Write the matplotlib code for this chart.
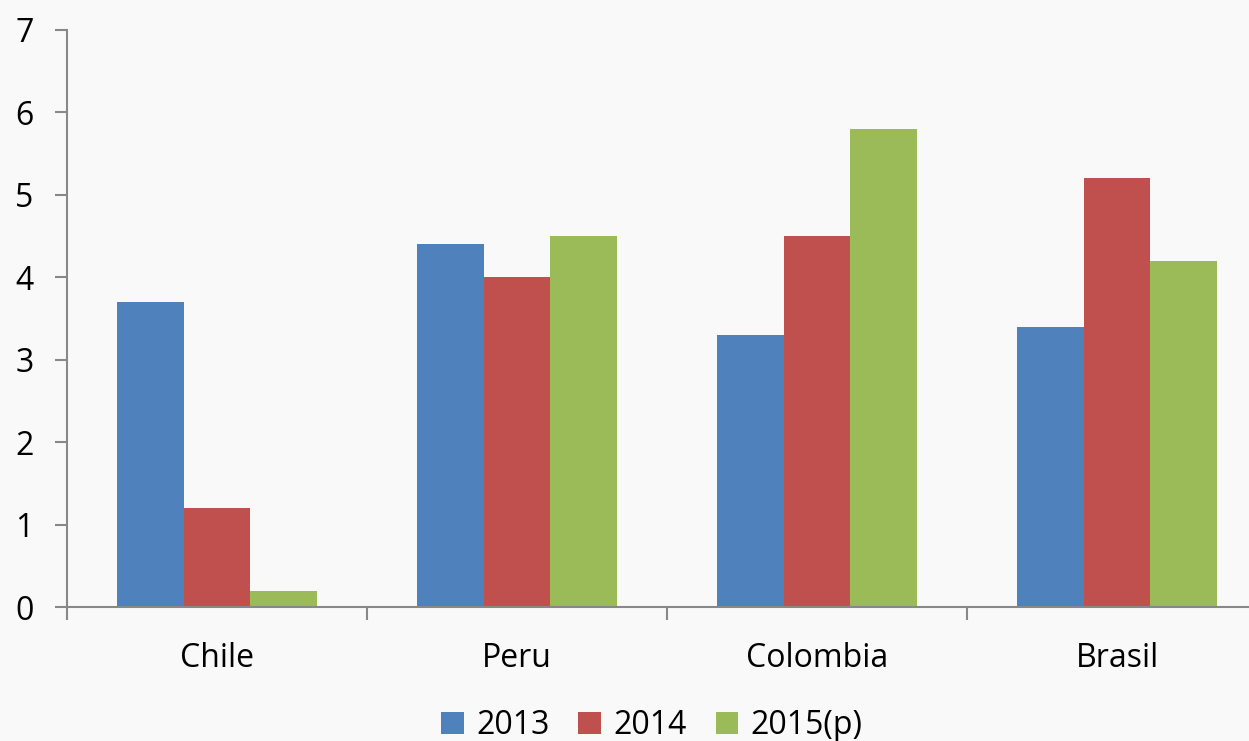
import numpy as np
import matplotlib
matplotlib.use("Agg")
import matplotlib.pyplot as plt

countries = ["Chile", "Peru", "Colombia", "Brasil"]
series_names = ["2013", "2014", "2015(p)"]
v2013 = [3.7, 4.4, 3.3, 3.4]
v2014 = [1.2, 4.0, 4.5, 5.2]
v2015 = [0.2, 4.5, 5.8, 4.2]
colors = ["#4f81bd", "#c0504d", "#9bbb59"]

plt.rcParams['font.family'] = ['Open Sans', 'DejaVu Sans']

bg = "#f9f9f9"
fig = plt.figure(figsize=(12.49, 7.41), dpi=100, facecolor=bg)
ax = fig.add_axes([67/1249, 1-607/741, 1200/1249, 577/741])
ax.set_facecolor(bg)

x = np.arange(len(countries))
w = 2/9
for i, (vals, name) in enumerate(zip([v2013, v2014, v2015], series_names)):
    ax.bar(x + (i-1)*w, vals, width=w, color=colors[i], label=name)

ax.set_xlim(-0.5, len(countries) - 0.5)
ax.set_ylim(0, 7)
ax.set_yticks(range(0, 8))

# category boundaries as major ticks, labels on minor ticks
ax.set_xticks(np.arange(-0.5, len(countries), 1.0))
ax.set_xticklabels([])
ax.set_xticks(x, minor=True)
ax.set_xticklabels(countries, minor=True)
ax.tick_params(axis='x', which='major', length=9, width=1.5, color='#888888')
ax.tick_params(axis='x', which='minor', length=0, pad=25, labelsize=23)
ax.tick_params(axis='y', length=9, width=1.5, color='#888888', pad=15, labelsize=23)

for s in ["top", "right"]:
    ax.spines[s].set_visible(False)
for s in ["left", "bottom"]:
    ax.spines[s].set_color('#888888')
    ax.spines[s].set_linewidth(1.5)

fig.legend(loc='lower center', bbox_to_anchor=(0.522, -0.04), ncol=3, frameon=False,
           fontsize=23, handlelength=0.7, handleheight=0.7, handletextpad=0.4,
           columnspacing=0.9)

fig.savefig("out.png", dpi=100, facecolor=bg)
